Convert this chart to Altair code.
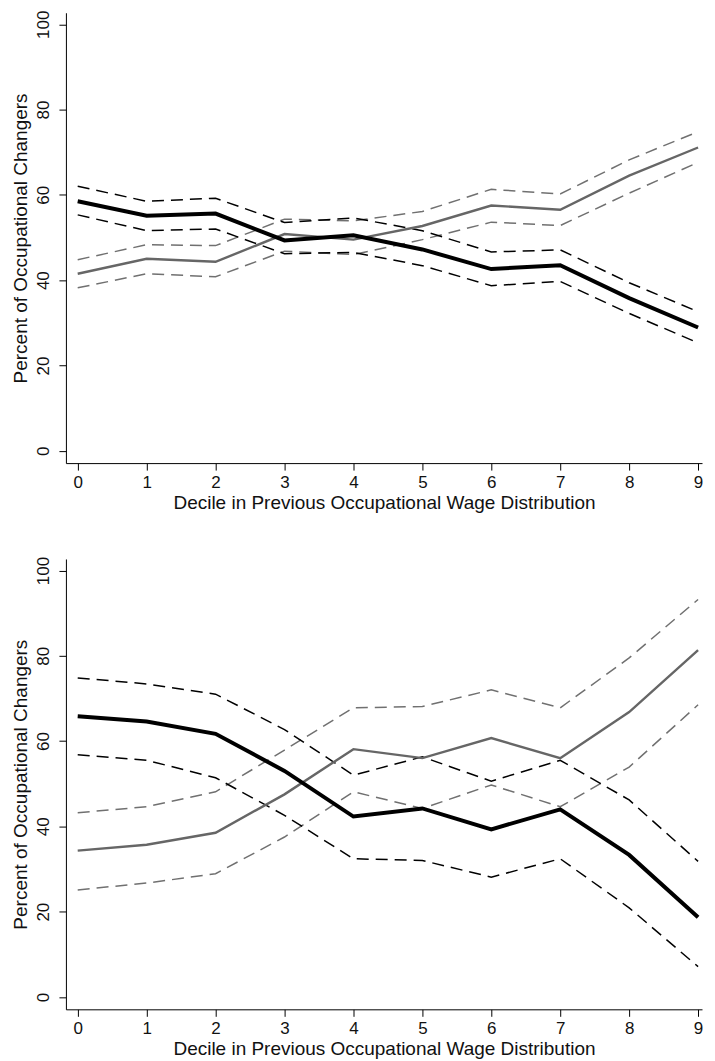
import altair as alt
import pandas as pd

deciles = [0, 1, 2, 3, 4, 5, 6, 7, 8, 9]

# Top panel
black_mean_A = [58.5, 55.1, 55.6, 49.3, 50.5, 47.2, 42.6, 43.5, 35.8, 28.9]
black_hi_A = [62.0, 58.5, 59.2, 53.5, 54.6, 51.6, 46.6, 47.1, 39.4, 32.6]
black_lo_A = [55.3, 51.6, 52.0, 46.2, 46.5, 43.4, 38.7, 39.7, 32.2, 25.3]
gray_mean_A = [41.5, 45.0, 44.3, 50.8, 49.5, 52.7, 57.5, 56.5, 64.5, 71.1]
gray_hi_A = [44.8, 48.3, 48.1, 54.3, 53.9, 56.1, 61.3, 60.2, 68.2, 74.8]
gray_lo_A = [38.2, 41.5, 40.8, 46.8, 46.0, 49.5, 53.6, 52.8, 60.4, 67.6]

# Bottom panel
black_mean_B = [65.8, 64.6, 61.7, 53.0, 42.3, 44.2, 39.3, 44.0, 33.3, 18.7]
black_hi_B = [74.8, 73.4, 71.0, 62.7, 52.0, 56.3, 50.6, 55.5, 46.2, 31.8]
black_lo_B = [56.8, 55.5, 51.4, 42.6, 32.4, 32.0, 28.1, 32.4, 20.9, 7.1]
gray_mean_B = [34.3, 35.7, 38.5, 47.5, 58.1, 56.0, 60.7, 56.0, 66.8, 81.3]
gray_hi_B = [43.2, 44.6, 48.1, 57.9, 67.8, 68.1, 72.0, 67.8, 79.5, 93.2]
gray_lo_B = [25.1, 26.7, 28.9, 37.5, 48.1, 44.2, 49.7, 44.6, 53.9, 68.5]

y_ticks = [0, 20, 40, 60, 80, 100]
x_title = "Decile in Previous Occupational Wage Distribution"
y_title = "Percent of Occupational Changers"

FONT = "Liberation Sans"


def long_df(series):
    rows = []
    for name, vals in series.items():
        for d, v in zip(deciles, vals):
            rows.append({"decile": d, "value": v, "line": name})
    return pd.DataFrame(rows)


def panel(bm, bh, bl, gm, gh, gl, h):
    df = long_df({"bm": bm, "bh": bh, "bl": bl, "gm": gm, "gh": gh, "gl": gl})
    x = alt.X(
        "decile:Q",
        scale=alt.Scale(domain=[-0.171, 9.057], nice=False, zero=False),
        axis=alt.Axis(
            values=deciles, format="d", title=x_title, grid=False,
            tickSize=7, labelPadding=4, labelFontSize=17, titleFontSize=19,
            titleFontWeight="normal", titlePadding=3,
            labelFont=FONT, titleFont=FONT, labelColor="#111", titleColor="#111",
            domainColor="#000", tickColor="#000", labelFlush=False,
        ),
    )
    y = alt.Y(
        "value:Q",
        scale=alt.Scale(domain=[-2.9, 102.7], nice=False, zero=False),
        axis=alt.Axis(
            values=y_ticks, title=y_title, grid=False,
            tickSize=7, labelPadding=10, labelAngle=270, labelAlign="center",
            labelBaseline="alphabetic", labelFontSize=17, titleFontSize=19,
            titleFontWeight="normal", titlePadding=4,
            labelFont=FONT, titleFont=FONT,
            labelColor="#111", titleColor="#111", domainColor="#000",
            tickColor="#000", labelFlush=False,
        ),
    )
    base = alt.Chart(df).encode(x=x, y=y, detail="line:N")
    gray_dash = base.transform_filter(
        alt.FieldOneOfPredicate(field="line", oneOf=["gh", "gl"])
    ).mark_line(color="#707070", strokeWidth=1.5, strokeDash=[12, 7])
    black_dash = base.transform_filter(
        alt.FieldOneOfPredicate(field="line", oneOf=["bh", "bl"])
    ).mark_line(color="#000000", strokeWidth=1.5, strokeDash=[12, 7])
    gray_solid = base.transform_filter(
        alt.FieldEqualPredicate(field="line", equal="gm")
    ).mark_line(color="#666666", strokeWidth=2.4)
    black_solid = base.transform_filter(
        alt.FieldEqualPredicate(field="line", equal="bm")
    ).mark_line(color="#000000", strokeWidth=4)
    return alt.layer(gray_dash, black_dash, gray_solid, black_solid).properties(
        width=637, height=h
    )


top = panel(black_mean_A, black_hi_A, black_lo_A, gray_mean_A, gray_hi_A, gray_lo_A, 451)
bottom = panel(black_mean_B, black_hi_B, black_lo_B, gray_mean_B, gray_hi_B, gray_lo_B, 451)

chart = (
    alt.vconcat(top, bottom, spacing=44)
    .properties(
        padding={"left": 4, "top": 1, "right": 0, "bottom": 0},
        background="white",
    )
    .configure_view(stroke="transparent", strokeWidth=0)
)

chart.save("out.html", embed_options={"renderer": "svg", "actions": False})
